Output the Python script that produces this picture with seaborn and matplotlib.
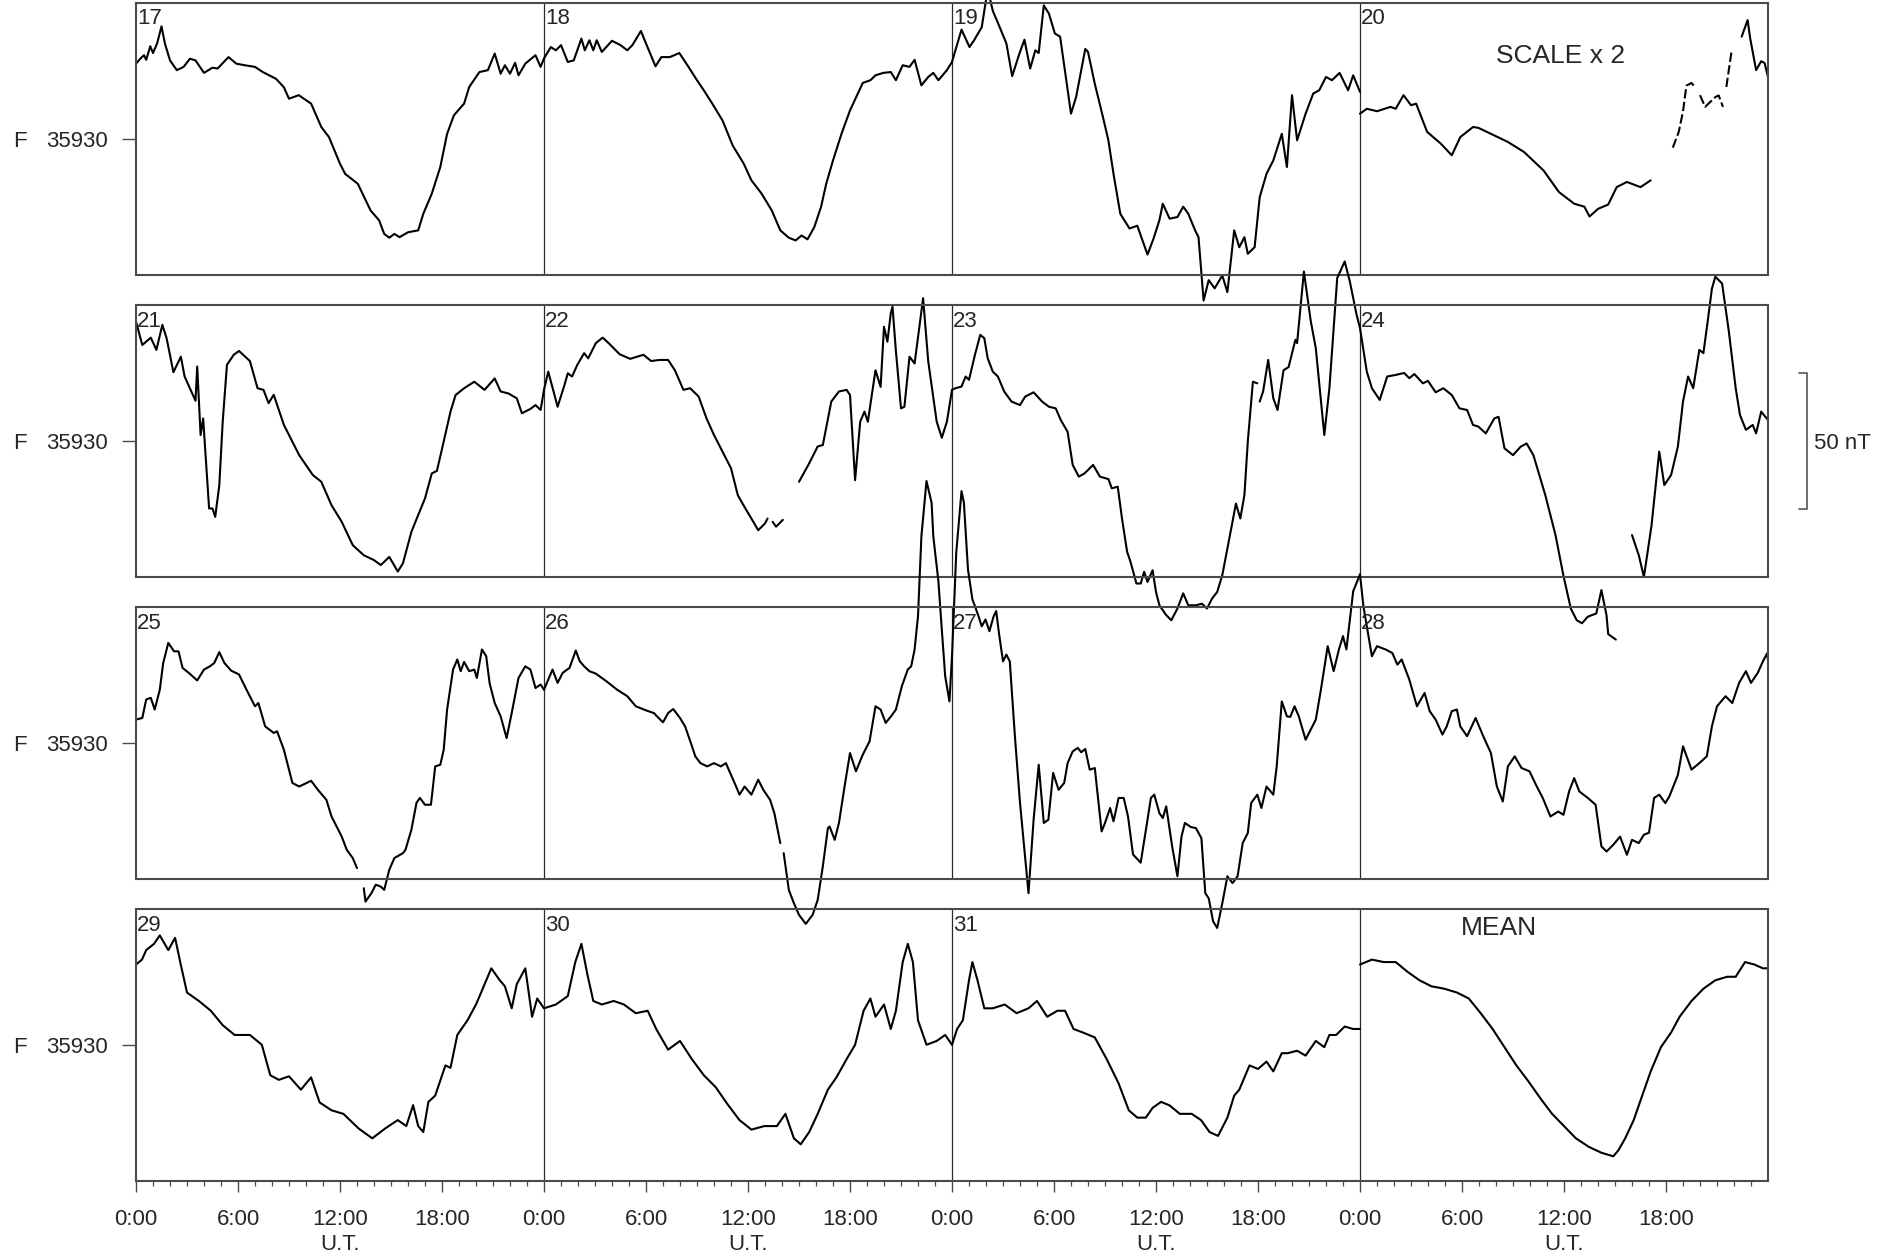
import numpy as np
import pandas as pd
import matplotlib
matplotlib.use("Agg")
import matplotlib.pyplot as plt
import matplotlib.transforms as mtransforms
import seaborn as sns

BASE_F = 35930          # nT, value at the centre of every row
HALF_SPAN = 50          # nT above / below the centre
nan = np.nan

# Hours (UT) and total-field deviations from 35930 nT; nan marks a data gap.
H17 = [0.0, 0.25, 0.47, 0.6, 0.84, 1.0, 1.24, 1.5, 1.7, 2.0, 2.4, 2.8, 3.17, 3.5, 4.0, 4.5, 4.8, 5.44, 5.9, 6.4,
       7.0, 7.46, 8.24, 8.7, 9.0, 9.57, 10.3, 10.9, 11.35, 12.0, 12.3, 13.05, 13.8, 14.3, 14.6, 14.9, 15.2, 15.5,
       16.0, 16.6, 16.9, 17.4, 17.9, 18.3, 18.7, 19.3, 19.6, 20.2, 20.7, 21.1, 21.45, 21.7, 22.0, 22.3, 22.5, 22.9,
       23.5, 23.8, 24.0]
D17 = [27.6, 29.4, 30.7, 29.0, 34.0, 31.5, 35.0, 41.3, 35.0, 28.8, 25.2, 26.4, 29.4, 28.8, 24.2, 26.1, 25.8, 30.0,
       27.6, 27.0, 26.4, 24.5, 22.0, 18.9, 14.7, 16.0, 12.9, 4.3, 0.6, -9.2, -12.9, -16.6, -26.4, -30.0, -35.0,
       -36.4, -35.0, -36.2, -34.4, -33.7, -27.6, -20.2, -10.4, 1.8, 8.6, 12.9, 19.0, 24.5, 25.2, 31.3, 23.9, 27.0,
       23.9, 27.9, 23.3, 27.6, 30.7, 26.4, 29.5]

H18 = [0.0, 0.4, 0.7, 1.0, 1.4, 1.75, 2.2, 2.4, 2.67, 2.9, 3.1, 3.4, 4.0, 4.5, 4.9, 5.2, 5.7, 6.0, 6.56, 6.9, 7.4,
       7.96, 8.5, 9.0, 9.4, 9.9, 10.5, 11.1, 11.75, 12.2, 12.8, 13.4, 13.9, 14.4, 14.8, 15.15, 15.5, 15.9, 16.3,
       16.6, 17.0, 17.5, 18.0, 18.75, 19.2, 19.5, 19.96, 20.4, 20.7, 21.1, 21.5, 21.8, 22.2, 22.6, 22.9, 23.2,
       23.7, 24.0]
D18 = [29.5, 33.7, 32.5, 34.4, 28.2, 28.8, 36.8, 32.5, 36.2, 32.5, 36.2, 31.9, 36.0, 34.4, 32.5, 34.4, 39.6, 35.0,
       26.6, 30.0, 30.0, 31.5, 26.4, 21.5, 17.8, 12.9, 6.7, -2.5, -9.2, -15.3, -20.2, -26.4, -33.7, -36.4, -37.4,
       -35.6, -37.0, -32.5, -25.0, -16.6, -8.0, 1.8, 10.4, 20.5, 21.5, 23.3, 24.2, 24.5, 21.5, 27.0, 26.4, 29.0,
       19.6, 22.7, 24.2, 21.5, 25.2, 28.2]

H19 = [0.0, 0.2, 0.56, 1.03, 1.3, 1.75, 2.1, 2.4, 2.76, 3.2, 3.54, 3.95, 4.26, 4.6, 4.9, 5.1, 5.4, 5.7, 6.05, 6.36,
       7.0, 7.3, 7.84, 8.0, 8.4, 8.9, 9.2, 9.5, 9.9, 10.44, 10.9, 11.5, 11.85, 12.2, 12.4, 12.8, 13.26, 13.6,
       13.9, 14.3, 14.5, 14.8, 15.1, 15.45, 15.9, 16.2, 16.6, 16.9, 17.2, 17.4, 17.8, 18.1, 18.5, 18.9, 19.4,
       19.7, 20.0, 20.3, 20.8, 21.25, 21.6, 22.0, 22.35, 22.8, 23.3, 23.6, 24.0]
D19 = [28.2, 32.5, 40.1, 33.7, 36.2, 41.0, 55.0, 47.0, 41.7, 35.0, 23.0, 31.0, 36.4, 25.8, 32.5, 31.5, 49.0, 46.0,
       38.7, 37.5, 9.2, 15.3, 33.0, 31.9, 20.2, 7.4, -0.6, -12.9, -27.6, -33.0, -32.0, -42.6, -36.8, -30.0, -23.9,
       -29.4, -28.8, -25.0, -27.6, -33.7, -36.2, -59.5, -52.0, -55.0, -50.3, -56.4, -33.7, -39.9, -36.2, -42.3,
       -39.9, -21.5, -12.9, -8.0, 1.8, -10.4, 16.0, -0.6, 9.2, 16.6, 17.8, 22.7, 21.5, 24.2, 17.8, 23.3, 17.2]

H20 = [0.0, 0.4, 1.0, 1.8, 2.1, 2.56, 3.0, 3.3, 3.95, 4.75, 5.4, 5.9, 6.65, 6.96, 7.9, 8.7, 9.65, 10.8, 11.7, 12.6,
       13.2, 13.5, 14.0, 14.6, 15.1, 15.7, 16.5, 17.1, nan, 22.45, 22.8, 22.95, 23.3, 23.6, 23.8, 24.0]
D20 = [9.2, 11.0, 10.1, 11.7, 11.0, 16.0, 12.3, 12.9, 2.5, -1.8, -6.1, 0.6, 4.3, 4.0, 1.2, -1.2, -4.9, -11.7,
       -19.6, -23.9, -25.0, -28.6, -25.8, -24.2, -17.8, -15.9, -17.8, -15.3, nan, 37.5, 43.6, 37.0, 25.2, 28.5,
       27.8, 22.7]
# broken (intermittent) recording on the evening of the 20th
H20_BROKEN = [18.4, 18.75, 19.0, 19.2, 19.5, 19.7, nan, 20.0, 20.3, 20.6, 20.9, 21.1, 21.35, nan, 21.55, 21.85]
D20_BROKEN = [-3.3, 2.5, 10.0, 19.5, 20.5, 19.0, nan, 16.0, 11.7, 13.5, 15.3, 15.9, 11.7, nan, 19.0, 31.9]

H21 = [0.0, 0.37, 0.87, 1.2, 1.55, 1.8, 2.2, 2.64, 2.86, 3.17, 3.5, 3.6, 3.8, 3.95, 4.3, 4.5, 4.66, 4.9, 5.1, 5.35,
       5.75, 6.06, 6.7, 7.15, 7.5, 7.8, 8.1, 8.7, 9.6, 10.4, 10.9, 11.5, 12.1, 12.75, 13.4, 14.0, 14.4, 14.9,
       15.4, 15.7, 16.2, 16.6, 17.0, 17.4, 17.7, 18.1, 18.5, 18.8, 19.3, 19.9, 20.5, 21.1, 21.45, 21.9, 22.4,
       22.7, 23.2, 23.5, 23.8, 24.0]
D21 = [43.9, 35.3, 38.0, 33.5, 42.7, 37.8, 25.3, 31.0, 23.7, 19.4, 14.8, 27.4, 2.2, 8.3, -24.8, -24.8, -27.9,
       -16.2, 7.1, 28.0, 31.7, 33.1, 29.4, 19.4, 18.8, 13.9, 17.0, 5.9, -5.2, -12.5, -15.0, -23.6, -29.7, -38.3,
       -42.0, -43.8, -45.6, -42.6, -48.0, -45.0, -33.4, -27.2, -21.1, -11.9, -11.0, -0.2, 10.8, 16.9, 19.4, 21.8,
       18.8, 23.0, 18.2, 17.5, 15.7, 10.2, 11.8, 13.2, 11.4, 18.8]

H22 = [0.0, 0.25, 0.8, 1.2, 1.4, 1.65, 1.96, 2.36, 2.6, 3.05, 3.45, 3.8, 4.45, 5.07, 5.85, 6.3, 6.8, 7.3, 7.7, 8.2,
       8.6, 9.1, 9.56, 10.0, 10.5, 11.0, 11.4, 11.9, 12.2, 12.6, 13.0, 13.15, nan, 13.45, 13.65, 14.05, nan,
       15.0, 15.6, 16.1, 16.4, 16.9, 17.35, 17.8, 18.0, 18.3, 18.6, 18.85, 19.05, 19.5, 19.8, 20.0, 20.2, 20.4,
       20.5, 20.7, 21.0, 21.2, 21.5, 21.8, 22.3, 22.6, 23.1, 23.4, 23.7, 24.0]
D22 = [18.8, 25.5, 12.6, 20.5, 24.9, 23.7, 28.0, 32.3, 30.4, 36.0, 38.0, 36.0, 31.9, 30.2, 31.7, 29.4, 29.8, 29.8,
       26.0, 18.8, 19.4, 16.3, 8.3, 2.2, -3.9, -10.0, -19.9, -25.4, -28.5, -32.8, -30.3, -28.5, nan, -29.7, -31.5,
       -29.0, nan, -15.0, -8.2, -2.0, -1.5, 14.5, 18.2, 18.8, 16.9, -14.4, 7.1, 10.8, 7.1, 26.0, 19.9, 42.0, 36.5,
       47.0, 49.4, 33.1, 12.0, 12.6, 31.0, 28.5, 52.5, 29.4, 7.1, 1.2, 7.1, 18.8]

H23 = [0.0, 0.2, 0.56, 0.8, 1.0, 1.35, 1.66, 1.9, 2.1, 2.4, 2.7, 3.07, 3.5, 4.0, 4.3, 4.8, 5.3, 5.7, 6.1, 6.4, 6.8,
       7.1, 7.46, 7.8, 8.3, 8.7, 9.2, 9.4, 9.75, 10.0, 10.3, 10.5, 10.85, 11.1, 11.3, 11.5, 11.8, 12.0, 12.2,
       12.6, 12.9, 13.26, 13.6, 13.9, 14.35, 14.7, 15.0, 15.3, 15.6, 15.9, 16.2, 16.5, 16.7, 16.96, 17.2, 17.4,
       17.7, 17.96, nan, 18.1, 18.3, 18.6, 18.9, 19.15, 19.5, 19.8, 20.2, 20.3, 20.7, 21.1, 21.4, 21.9, 22.2,
       22.66, 23.1, 23.4, 23.8, 24.0]
D23 = [18.8, 19.4, 20.0, 23.7, 22.5, 31.7, 39.0, 37.8, 30.4, 25.5, 23.7, 18.2, 14.5, 13.2, 16.3, 17.9, 14.5, 12.6,
       12.0, 7.7, 3.4, -8.8, -13.1, -11.9, -8.8, -13.1, -14.0, -17.4, -16.8, -28.5, -40.7, -44.4, -52.4, -52.4,
       -48.1, -51.8, -47.5, -55.5, -60.4, -64.0, -65.9, -61.6, -56.0, -60.4, -60.4, -59.8, -61.6, -57.9, -55.5,
       -49.3, -39.5, -29.7, -23.0, -28.5, -19.9, -0.2, 21.8, 21.2, nan, 14.5, 18.2, 29.8, 15.7, 11.4, 26.0, 27.2,
       37.2, 36.0, 62.3, 44.2, 34.1, 2.2, 19.4, 59.9, 66.0, 58.7, 46.4, 41.5]

H24 = [0.0, 0.4, 0.7, 1.16, 1.6, 2.1, 2.6, 2.9, 3.2, 3.7, 4.0, 4.45, 4.9, 5.4, 5.85, 6.3, 6.65, 6.96, 7.4, 7.9,
       8.15, 8.5, 9.0, 9.45, 9.8, 10.2, 10.9, 11.5, 11.96, 12.4, 12.75, 13.06, 13.4, 13.9, 14.2, 14.5, 14.6,
       15.05, nan, 16.0, 16.4, 16.7, 17.15, 17.6, 17.9, 18.3, 18.7, 19.0, 19.3, 19.6, 19.96, 20.2, 20.45, 20.7,
       20.9, 21.3, 21.7, 22.1, 22.35, 22.7, 23.1, 23.3, 23.6, 24.0]
D24 = [41.5, 25.5, 19.4, 15.1, 23.7, 24.3, 25.0, 23.1, 24.6, 21.2, 22.1, 17.9, 19.4, 16.9, 12.0, 11.4, 5.9, 5.3,
       2.8, 8.3, 8.9, -2.7, -5.2, -2.1, -0.9, -5.2, -19.9, -34.6, -49.3, -61.6, -65.9, -67.0, -64.6, -63.4, -54.8,
       -64.0, -71.0, -73.0, nan, -34.6, -42.0, -50.0, -31.0, -3.9, -16.2, -12.5, -2.0, 14.5, 23.7, 19.4, 33.5,
       32.3, 43.9, 56.0, 60.4, 57.9, 40.1, 19.4, 9.6, 4.1, 5.9, 2.8, 10.8, 7.7]

H25 = [0.0, 0.37, 0.6, 0.87, 1.1, 1.4, 1.6, 1.9, 2.24, 2.5, 2.74, 3.1, 3.6, 4.0, 4.35, 4.6, 4.9, 5.2, 5.6, 6.06,
       6.5, 7.0, 7.2, 7.6, 8.1, 8.3, 8.7, 9.2, 9.6, 10.3, 10.7, 11.2, 11.5, 11.8, 12.1, 12.4, 12.75, 13.0, nan,
       13.4, 13.5, 13.85, 14.1, 14.4, 14.6, 14.9, 15.2, 15.7, 15.85, 16.2, 16.5, 16.7, 17.0, 17.35, 17.6, 17.9,
       18.1, 18.3, 18.65, 18.9, 19.1, 19.3, 19.6, 19.9, 20.05, 20.35, 20.6, 20.8, 21.1, 21.45, 21.8, 22.1, 22.5,
       22.9, 23.2, 23.5, 23.8, 24.0]
D25 = [8.6, 9.2, 16.0, 16.6, 12.3, 19.6, 29.4, 36.8, 33.7, 33.7, 27.6, 25.8, 23.0, 27.0, 28.2, 29.4, 33.4, 29.4,
       26.6, 25.2, 19.6, 13.5, 14.7, 6.1, 3.7, 4.3, -2.5, -14.7, -16.0, -13.9, -17.2, -20.9, -27.0, -30.7, -34.4,
       -39.3, -42.3, -46.0, nan, -53.4, -58.3, -55.2, -52.1, -52.8, -54.0, -46.6, -42.3, -40.5, -39.3, -31.9,
       -22.0, -20.2, -22.7, -22.7, -8.6, -8.0, -2.5, 12.3, 27.0, 30.7, 26.4, 29.8, 26.4, 27.0, 23.9, 34.4, 31.9,
       22.0, 14.7, 9.8, 1.8, 11.0, 23.9, 28.2, 27.0, 20.2, 21.5, 19.6]

H26 = [0.0, 0.5, 0.8, 1.1, 1.5, 1.87, 2.1, 2.36, 2.67, 3.05, 3.67, 4.3, 4.9, 5.4, 6.0, 6.47, 6.6, 7.0, 7.3, 7.6,
       8.0, 8.3, 8.64, 8.9, 9.2, 9.6, 10.0, 10.4, 10.7, 11.0, 11.3, 11.5, 11.8, 12.2, 12.6, 12.9, 13.3, 13.55,
       13.9, nan, 14.1, 14.4, 14.7, 15.0, 15.4, 15.8, 16.1, 16.4, 16.7, 16.8, 17.1, 17.35, 17.65, 18.0, 18.35,
       18.75, 19.15, 19.5, 19.8, 20.1, 20.45, 20.7, 21.05, 21.4, 21.6, 21.8, 22.0, 22.2, 22.5, 22.8, 22.9, 23.2,
       23.4, 23.6, 23.85, 24.0]
D26 = [19.6, 27.0, 22.1, 25.8, 27.6, 34.0, 30.1, 28.2, 26.4, 25.5, 22.7, 19.6, 17.2, 13.5, 12.0, 11.0, 10.1, 7.6,
       11.0, 12.5, 9.2, 6.1, 0.0, -4.9, -7.4, -8.6, -7.4, -8.6, -7.4, -11.7, -16.0, -19.0, -16.0, -19.0, -13.5,
       -17.2, -20.9, -25.8, -36.8, nan, -40.5, -54.0, -58.9, -63.2, -66.5, -63.2, -57.7, -45.4, -31.3, -30.7,
       -35.6, -29.4, -17.2, -3.7, -10.4, -4.3, 0.6, 13.5, 12.3, 7.4, 10.1, 12.3, 20.9, 27.0, 28.2, 34.4, 46.6,
       76.0, 96.3, 88.3, 76.0, 59.5, 41.7, 24.5, 15.3, 31.9]

H27 = [0.0, 0.25, 0.56, 0.7, 0.94, 1.2, 1.35, 1.56, 1.75, 1.97, 2.2, 2.45, 2.6, 2.76, 3.0, 3.2, 3.4, 3.7, 4.0,
       4.26, 4.5, 4.8, 5.1, 5.4, 5.67, 5.95, 6.27, 6.6, 6.8, 7.1, 7.4, 7.6, 7.84, 8.1, 8.4, 8.8, 9.0, 9.3, 9.5,
       9.8, 10.1, 10.35, 10.65, 11.1, 11.5, 11.7, 11.9, 12.2, 12.4, 12.6, 12.95, 13.26, 13.5, 13.7, 14.05, 14.35,
       14.67, 14.9, 15.1, 15.36, 15.6, 15.9, 16.2, 16.5, 16.8, 17.1, 17.4, 17.6, 17.96, 18.2, 18.5, 18.9, 19.1,
       19.4, 19.7, 19.9, 20.15, 20.4, 20.8, 21.1, 21.4, 21.7, 22.1, 22.45, 22.76, 23.0, 23.2, 23.6, 24.0]
D27 = [31.9, 70.0, 92.6, 88.3, 63.8, 52.8, 50.3, 46.6, 42.9, 45.4, 41.1, 46.6, 48.5, 40.5, 30.0, 32.5, 30.0, 2.5,
       -22.0, -39.3, -55.2, -28.2, -8.0, -29.4, -28.2, -11.0, -17.2, -14.7, -7.4, -3.1, -1.8, -3.4, -2.2, -9.8,
       -9.2, -32.5, -29.4, -23.9, -28.8, -20.2, -20.2, -26.9, -41.0, -44.0, -28.2, -20.2, -19.0, -25.8, -27.6,
       -23.3, -38.0, -49.0, -34.4, -29.4, -30.9, -31.3, -35.0, -55.2, -57.1, -65.6, -68.0, -58.9, -49.0, -51.5,
       -49.0, -36.8, -33.1, -22.0, -19.0, -23.9, -16.0, -19.0, -8.6, 15.3, 9.8, 9.6, 13.5, 9.8, 1.2, 4.9, 8.6,
       19.6, 35.6, 26.4, 34.4, 39.3, 34.4, 55.8, 62.0]

H28 = [0.0, 0.2, 0.7, 1.0, 1.5, 1.9, 2.2, 2.45, 2.9, 3.35, 3.8, 4.1, 4.45, 4.85, 5.1, 5.4, 5.7, 5.9, 6.3, 6.8,
       7.25, 7.7, 8.05, 8.4, 8.7, 9.1, 9.5, 9.97, 10.4, 10.75, 11.2, 11.66, 11.97, 12.3, 12.6, 12.9, 13.4, 13.86,
       14.2, 14.5, 14.9, 15.3, 15.7, 16.0, 16.4, 16.7, 17.0, 17.3, 17.6, 17.96, 18.2, 18.7, 19.0, 19.5, 19.96,
       20.4, 20.7, 21.0, 21.5, 21.9, 22.3, 22.7, 23.0, 23.4, 23.7, 23.95, 24.0]
D28 = [62.0, 50.3, 31.9, 35.6, 34.4, 33.1, 28.8, 30.7, 23.3, 13.5, 18.4, 11.7, 8.6, 3.1, 6.1, 11.7, 12.3, 6.1,
       2.5, 9.2, 2.5, -3.7, -16.0, -21.5, -8.6, -4.9, -9.2, -10.4, -16.0, -20.2, -27.0, -25.2, -26.4, -17.8,
       -12.9, -17.8, -20.2, -22.7, -38.0, -39.9, -37.4, -34.4, -41.1, -35.6, -36.8, -33.7, -33.0, -20.2, -19.0,
       -22.1, -19.6, -11.7, -1.2, -9.8, -7.4, -4.9, 6.1, 13.5, 17.2, 14.7, 22.1, 26.4, 22.1, 25.8, 30.0, 33.0,
       30.5]

H29 = [0.0, 0.35, 0.6, 1.06, 1.4, 1.9, 2.3, 2.6, 3.0, 3.7, 4.4, 5.1, 5.8, 6.7, 7.4, 7.9, 8.4, 9.0, 9.7, 10.3,
       10.8, 11.5, 12.2, 13.1, 13.9, 14.65, 15.4, 15.9, 16.3, 16.6, 16.9, 17.2, 17.6, 18.2, 18.5, 18.9, 19.5,
       20.0, 20.3, 20.9, 21.4, 21.7, 22.1, 22.4, 22.9, 23.3, 23.6, 24.0]
D29 = [29.7, 31.5, 35.0, 37.3, 40.4, 35.0, 39.5, 30.6, 19.4, 16.3, 12.7, 7.4, 3.8, 3.8, 0.2, -11.0, -12.7, -11.4,
       -16.3, -11.8, -21.0, -23.9, -25.2, -30.6, -34.2, -30.6, -27.5, -29.7, -22.0, -29.7, -31.9, -20.8, -18.5,
       -7.4, -8.3, 3.8, 9.2, 15.0, 19.4, 28.3, 23.9, 21.7, 13.6, 22.5, 28.3, 10.5, 17.2, 13.6]

H30 = [0.0, 0.7, 1.4, 1.84, 2.2, 2.55, 2.9, 3.4, 4.1, 4.7, 5.4, 6.1, 6.6, 7.3, 8.0, 8.7, 9.4, 10.1, 10.8, 11.5,
       12.2, 12.96, 13.7, 14.2, 14.7, 15.1, 15.6, 16.1, 16.7, 17.2, 17.8, 18.3, 18.8, 19.2, 19.5, 20.0, 20.4,
       20.7, 21.1, 21.4, 21.7, 22.0, 22.5, 23.1, 23.6, 24.0]
D30 = [13.6, 15.0, 18.1, 30.6, 37.3, 26.1, 16.3, 15.0, 16.3, 15.0, 11.8, 12.7, 6.0, -1.6, 1.6, -5.1, -11.0, -15.4,
       -21.7, -27.5, -31.0, -29.7, -29.7, -25.2, -34.2, -36.4, -31.9, -25.2, -16.3, -11.8, -5.1, 0.2, 12.7, 17.2,
       10.5, 15.0, 6.0, 12.7, 30.6, 37.3, 30.6, 9.2, 0.2, 1.6, 3.8, 0.2]

H31 = [0.0, 0.3, 0.64, 1.0, 1.2, 1.5, 1.9, 2.4, 3.1, 3.8, 4.5, 5.0, 5.6, 6.2, 6.65, 7.15, 7.7, 8.4, 9.1, 9.8,
       10.4, 10.9, 11.4, 11.8, 12.3, 12.8, 13.4, 14.1, 14.65, 15.15, 15.65, 16.2, 16.6, 16.9, 17.5, 18.0, 18.5,
       18.9, 19.4, 19.75, 20.3, 20.8, 21.4, 21.9, 22.2, 22.6, 23.1, 23.6, 24.0]
D31 = [0.2, 6.0, 9.2, 23.9, 30.6, 23.9, 13.6, 13.6, 15.0, 11.8, 13.6, 16.3, 10.5, 12.7, 12.7, 6.0, 4.7, 2.9, -5.1,
       -14.0, -23.9, -26.6, -26.6, -23.0, -20.8, -22.1, -25.2, -25.2, -27.5, -31.9, -33.3, -26.6, -18.5, -16.3,
       -7.4, -8.7, -6.0, -9.6, -2.9, -2.9, -2.0, -3.8, 1.6, -0.7, 3.8, 3.8, 6.9, 6.0, 6.0]

H_MEAN = [0.0, 0.7, 1.4, 2.1, 2.8, 3.5, 4.2, 4.96, 5.7, 6.4, 7.1, 7.8, 8.5, 9.2, 9.9, 10.6, 11.3, 12.0, 12.7,
          13.45, 14.2, 14.9, 15.2, 15.6, 16.1, 16.6, 17.1, 17.7, 18.3, 18.8, 19.5, 20.2, 20.9, 21.6, 22.1, 22.65,
          23.2, 23.7, 24.0]
D_MEAN = [29.7, 31.5, 30.6, 30.6, 27.0, 23.9, 21.7, 20.8, 19.4, 17.2, 11.8, 6.0, -0.7, -7.4, -13.2, -19.4, -25.2,
          -29.7, -34.2, -37.3, -39.5, -40.8, -38.6, -34.2, -27.5, -18.5, -9.6, -0.7, 4.7, 10.5, 16.3, 20.8, 23.9,
          25.2, 25.2, 30.6, 29.7, 28.3, 28.3]

ROW_DAYS = [["17", "18", "19", "20"], ["21", "22", "23", "24"],
            ["25", "26", "27", "28"], ["29", "30", "31", "MEAN"]]
TIME_LABELS = ["0:00", "6:00", "12:00", "18:00"]

SERIES = {
    "17": (H17, D17), "18": (H18, D18), "19": (H19, D19), "20": (H20, D20),
    "21": (H21, D21), "22": (H22, D22), "23": (H23, D23), "24": (H24, D24),
    "25": (H25, D25), "26": (H26, D26), "27": (H27, D27), "28": (H28, D28),
    "29": (H29, D29), "30": (H30, D30), "31": (H31, D31), "MEAN": (H_MEAN, D_MEAN),
}


def to_frame(hours, devs, col, tag):
    """Long-form table of one day's trace, split into unbroken pieces."""
    rows, piece = [], 0
    for h, d in zip(hours, devs):
        if np.isnan(d):
            piece += 1
            continue
        rows.append({"t": col * 24 + h, "F": BASE_F + d, "piece": f"{tag}-{piece}"})
    return pd.DataFrame(rows)


sns.set_theme(style="white")
plt.rcParams["font.family"] = ["Liberation Sans", "DejaVu Sans"]
plt.rcParams["axes.linewidth"] = 1.5

W, H = 1887, 1256
fig = plt.figure(figsize=(W / 100, H / 100), dpi=100)

left_px, width_px, height_px = 136, 1632, 272
row_tops = [2.7, 305, 607, 909.3]
frame_col = "#4a4a4a"
small = 16
large = 19

axes = []
for r, top in enumerate(row_tops):
    ax = fig.add_axes([left_px / W, 1 - (top + height_px) / H, width_px / W, height_px / H])
    axes.append(ax)
    ax.patch.set_alpha(0)          # traces may run over the neighbouring rows
    ax.set_xlim(0, 96)
    ax.set_ylim(BASE_F - HALF_SPAN, BASE_F + HALF_SPAN)
    for s in ax.spines.values():
        s.set_color(frame_col)
        s.set_linewidth(1.5)
    for xd in (24, 48, 72):
        ax.axvline(xd, color="#2a2a2a", lw=0.9, zorder=1)

    frames = []
    for c, day in enumerate(ROW_DAYS[r]):
        hrs, dev = SERIES[day]
        frames.append(to_frame(hrs, dev, c, day))
    df = pd.concat(frames, ignore_index=True)
    sns.lineplot(data=df, x="t", y="F", units="piece", estimator=None, sort=False,
                 color="black", linewidth=1.5, legend=False, ax=ax)

    if r == 0:
        broken = to_frame(H20_BROKEN, D20_BROKEN, 3, "20b")
        sns.lineplot(data=broken, x="t", y="F", units="piece", estimator=None, sort=False,
                     color="black", linewidth=1.5, linestyle=(0, (4.5, 1.6)), legend=False, ax=ax)

    for line in ax.lines:
        line.set_clip_on(False)

    # day numbers in the upper-left corner of each day
    for c, day in enumerate(ROW_DAYS[r]):
        if day == "MEAN":
            ax.text(c * 24 + 8.2, BASE_F + 40.5, "MEAN", fontsize=large, ha="center", va="baseline")
        else:
            ax.text(c * 24 + 0.08, BASE_F + HALF_SPAN - 8.0, day, fontsize=small, ha="left", va="baseline")

    ax.set_yticks([BASE_F])
    ax.set_yticklabels([str(BASE_F)], fontsize=small)
    ax.tick_params(axis="y", left=True, length=10, width=1.0, color=frame_col, pad=10, direction="out")
    ax.set_ylabel("")
    ax.set_xlabel("")
    fig.text(13 / W, 1 - (top + height_px / 2) / H, "F", fontsize=small, ha="left", va="center_baseline")

    if r < 3:
        ax.set_xticks([])
    else:
        major = [c * 24 + k * 6 for c in range(4) for k in range(4)]
        minor = [h for h in range(96) if h % 6 != 0]
        ax.set_xticks(major)
        ax.set_xticklabels(TIME_LABELS * 4, fontsize=small)
        ax.set_xticks(minor, minor=True)
        ax.tick_params(axis="x", which="major", bottom=True, length=8, width=1.0, color=frame_col,
                       pad=12, direction="out")
        ax.tick_params(axis="x", which="minor", bottom=True, length=3.6, width=0.9, color=frame_col,
                       direction="out")
        trans = mtransforms.blended_transform_factory(ax.transData, fig.transFigure)
        for c in range(4):
            ax.text(c * 24 + 12, 1 - 1250 / H, "U.T.", fontsize=small, ha="center", va="baseline",
                    transform=trans)

axes[0].text(72 + 11.8, BASE_F + 27.9, "SCALE x 2", fontsize=large, ha="center", va="baseline")

# 50 nT scale bar beside the second row
ax2 = axes[1]
xb, tick = 98.28, 0.47
ax2.plot([xb - tick, xb, xb, xb - tick], [BASE_F + 25, BASE_F + 25, BASE_F - 25, BASE_F - 25],
         color="#555555", lw=1.2, clip_on=False)
ax2.text(xb + 0.4, BASE_F, "50 nT", fontsize=small, ha="left", va="center_baseline")

fig.savefig("out.png", dpi=100)
